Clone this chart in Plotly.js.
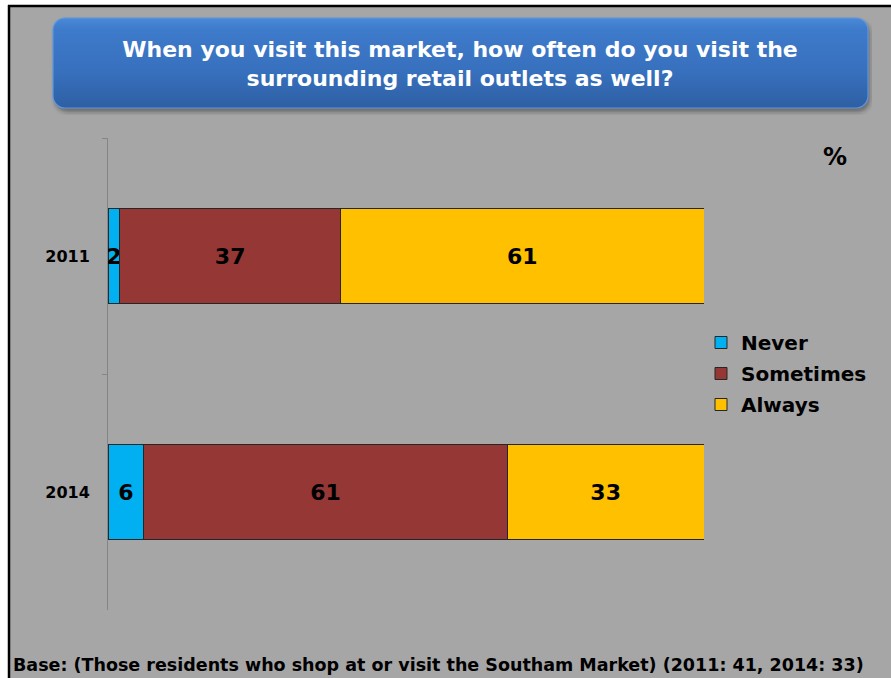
<!DOCTYPE html>
<html>
<head>
<meta charset="utf-8">
<script src="https://cdn.plot.ly/plotly-3.0.1.min.js"></script>
<style>html,body{margin:0;padding:0;background:#fff;}#chart{width:891px;height:678px;}</style>
</head>
<body>
<div id="chart"></div>
<script>
// ---- data ----
const years = ['2011', '2014'];
const seriesNames = ['Never', 'Sometimes', 'Always'];
const never = [2, 6];
const sometimes = [37, 61];
const always = [61, 33];
const seriesColors = ['#00B0F0', '#953735', '#FFC000'];
const titleText = 'When you visit this market, how often do you visit the<br>surrounding retail outlets as well?';
const unitLabel = '%';
const footerText = 'Base: (Those residents who shop at or visit the Southam Market) (2011: 41, 2014: 33)';

// ---- layout helpers (pixel -> paper) ----
const W = 891, H = 678;
const M = {l: 108, r: 187, t: 138, b: 68};
const PW = W - M.l - M.r, PH = H - M.t - M.b;
const px = x => (x - M.l) / PW;
const py = y => (H - M.b - y) / PH;

const boldFont = 'DejaVu Sans, Verdana, sans-serif';

const values = [never, sometimes, always];
const traces = seriesNames.map((name, i) => ({
  type: 'bar',
  orientation: 'h',
  name: name,
  y: years,
  x: values[i],
  width: 0.4,
  legendgroup: name,
  marker: {color: seriesColors[i], line: {color: '#262626', width: 1}},
  texttemplate: '%{x}',
  textposition: 'inside',
  insidetextanchor: 'middle',
  constraintext: 'none',
  textangle: 0,
  textfont: {family: boldFont, size: 22, color: '#000', weight: 'bold'},
  hoverinfo: 'x+name'
}));

const boxSvg = "<svg xmlns='http://www.w3.org/2000/svg' width='822' height='100' viewBox='0 0 822 100'>" +
  "<defs><linearGradient id='g' x1='0' y1='0' x2='0' y2='1'>" +
  "<stop offset='0' stop-color='#4A8AD9'/><stop offset='0.12' stop-color='#3E7BCB'/>" +
  "<stop offset='0.6' stop-color='#3770BD'/><stop offset='1' stop-color='#2E5FA3'/></linearGradient>" +
  "<filter id='b' x='-5%' y='-20%' width='110%' height='140%'><feGaussianBlur stdDeviation='2'/></filter></defs>" +
  "<rect x='5' y='6' width='815' height='91' rx='12' fill='rgba(40,40,40,0.45)' filter='url(#b)'/>" +
  "<rect x='3' y='3' width='815' height='90' rx='12' fill='url(#g)' stroke='#5E97E0' stroke-width='1.2'/>" +
  "</svg>";

const layout = {
  width: W, height: H,
  margin: M,
  paper_bgcolor: '#A6A6A6',
  plot_bgcolor: 'rgba(0,0,0,0)',
  barmode: 'stack',
  showlegend: true,
  title: {
    text: titleText,
    font: {family: boldFont, size: 22, color: '#FFFFFF', weight: 'bold'},
    x: px(460), xanchor: 'center', xref: 'paper',
    y: 1 - 57 / H, yanchor: 'middle', yref: 'container'
  },
  xaxis: {range: [0, 100], visible: false, fixedrange: true},
  yaxis: {
    type: 'category', categoryorder: 'array', categoryarray: years,
    autorange: 'reversed',
    showline: true, linecolor: '#858585', linewidth: 1,
    ticks: 'outside', tickson: 'boundaries', ticklen: 5, tickcolor: '#858585',
    showgrid: false, zeroline: false,
    tickfont: {family: boldFont, size: 16, color: '#000', weight: 'bold'},
    ticklabelstandoff: 14,
    fixedrange: true
  },
  legend: {
    x: px(701), xanchor: 'left', y: py(323), yanchor: 'top',
    orientation: 'v', traceorder: 'grouped', tracegroupgap: 2,
    bgcolor: 'rgba(0,0,0,0)',
    font: {family: boldFont, size: 20, color: '#000', weight: 'bold'}
  },
  images: [{
    source: 'data:image/svg+xml;charset=utf-8,' + encodeURIComponent(boxSvg),
    xref: 'paper', yref: 'paper',
    x: px(50), y: py(15), sizex: 822 / PW, sizey: 100 / PH,
    xanchor: 'left', yanchor: 'top', sizing: 'stretch', layer: 'above'
  }],
  shapes: [
    {type: 'rect', xref: 'paper', yref: 'paper', x0: px(-5), x1: px(8), y0: py(H + 5), y1: py(-5), fillcolor: '#FFFFFF', line: {width: 0}, layer: 'above'},
    {type: 'rect', xref: 'paper', yref: 'paper', x0: px(-5), x1: px(W + 5), y0: py(5), y1: py(-5), fillcolor: '#FFFFFF', line: {width: 0}, layer: 'above'},
    {type: 'line', xref: 'paper', yref: 'paper', x0: px(9), x1: px(9), y0: py(H + 5), y1: py(5), line: {color: '#000', width: 2.5}, layer: 'above'},
    {type: 'line', xref: 'paper', yref: 'paper', x0: px(8), x1: px(W + 5), y0: py(6), y1: py(6), line: {color: '#000', width: 2.5}, layer: 'above'}
  ],
  annotations: [
    {text: unitLabel, xref: 'paper', yref: 'paper', x: px(835), y: py(157), xanchor: 'center', yanchor: 'middle', showarrow: false,
     font: {family: boldFont, size: 24, color: '#000', weight: 'bold'}},
    {text: footerText, xref: 'paper', yref: 'paper', x: px(11), y: py(665), xanchor: 'left', yanchor: 'middle', showarrow: false,
     font: {family: boldFont, size: 17.5, color: '#000', weight: 'bold'}}
  ]
};

Plotly.newPlot('chart', traces, layout, {displayModeBar: false, staticPlot: true});
</script>
</body>
</html>
